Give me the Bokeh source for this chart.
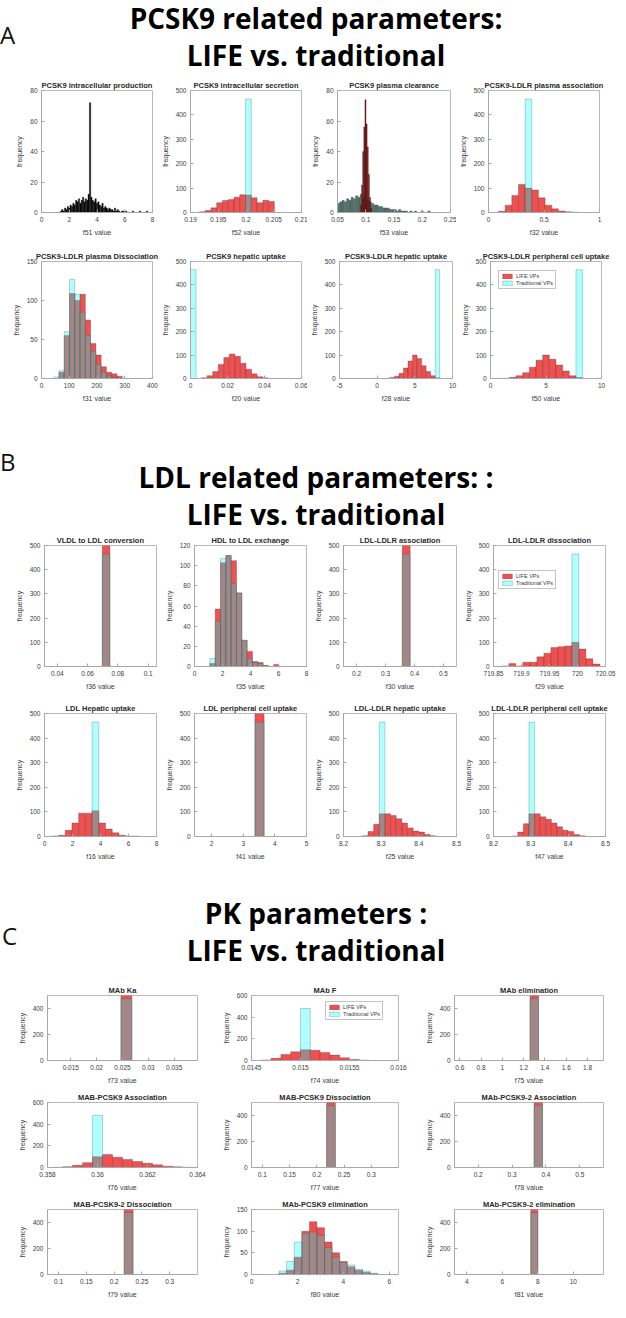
from bokeh.plotting import figure
from bokeh.models import (Div, Range1d, FixedTicker, CustomJSTickFormatter,
                          Legend, LegendItem, Label)
from bokeh.layouts import column, row
from bokeh.embed import file_html
from bokeh.resources import INLINE

# ======================= DATA =======================
SECTION_LETTERS = ["A", "B", "C"]
SECTION_LINE1 = ["PCSK9 related parameters:", "LDL related parameters: :", "PK parameters :"]
SECTION_LINE2 = ["LIFE vs. traditional", "LIFE vs. traditional", "LIFE vs. traditional"]
LEGEND_LABELS = ["LIFE VPs", "Traditional VPs"]

# ---- Section A ----
F51_START, F51_WIDTH = 1.35, 0.1
F51_COUNTS = [1, 2, 1, 3, 2, 4, 3, 5, 4, 6, 5, 8, 7, 9, 6, 8, 10, 7, 9, 8, 12, 72,
              10, 8, 7, 9, 6, 7, 5, 4, 6, 3, 4, 3, 2, 3, 2, 2, 1, 3, 1, 2, 1, 0,
              1, 1, 0, 1, 0, 0, 0, 0, 1, 0, 0, 0, 0, 1, 0, 0, 0, 0, 1]

F52_START, F52_WIDTH = 0.1916, 0.00104
F52_LIFE = [3, 8, 19, 40, 49, 53, 63, 73, 72, 60, 40, 50, 45]
F52_TRAD = [0, 0, 0, 0, 0, 0, 0, 0, 465, 0, 0, 0, 0]

F53_TRAD_START, F53_TRAD_WIDTH = 0.050, 0.004
F53_TRAD = [6, 7, 8, 7, 9, 8, 10, 9, 11, 10, 12, 9, 10, 8, 7, 6, 5, 5, 4, 4,
            3, 3, 3, 2, 2, 2, 1, 2, 1, 1, 1, 0, 1, 0, 1, 0, 0, 1, 0, 0, 1]
F53_LIFE_START, F53_LIFE_WIDTH = 0.0905, 0.002
F53_LIFE = [5, 18, 40, 56, 74, 58, 43, 25, 10, 3]

F32_START, F32_WIDTH = 0.09, 0.06
F32_LIFE = [5, 30, 70, 115, 100, 92, 60, 30, 15, 6, 3, 1]
F32_TRAD = [0, 0, 0, 0, 465, 0, 0, 0, 0, 0, 0, 0]

F31_START, F31_WIDTH = 44, 19
F31_LIFE = [0, 8, 55, 109, 100, 108, 75, 45, 30, 15, 8, 6, 3]
F31_TRAD = [2, 10, 60, 127, 108, 85, 55, 35, 18, 8, 3, 1, 0]

F20_LIFE_START, F20_WIDTH = 0.006, 0.003
F20_LIFE = [3, 12, 30, 60, 90, 105, 95, 65, 40, 20, 8, 3]
F20_TRAD_START = 0.0
F20_TRAD = [465]

F28_START, F28_WIDTH = 1.1, 0.6
F28_LIFE = [1, 4, 10, 22, 45, 75, 100, 85, 55, 30, 12, 3]
F28_TRAD = [0, 0, 0, 0, 0, 0, 0, 0, 0, 0, 0, 465]

F50_START, F50_WIDTH = 1.1, 0.6
F50_LIFE = [1, 5, 12, 25, 48, 78, 100, 82, 58, 32, 12, 4]
F50_TRAD = [0, 0, 0, 0, 0, 0, 0, 0, 0, 0, 0, 465]

# ---- Section B ----
F36_START, F36_WIDTH = 0.0697, 0.005
F36_LIFE, F36_TRAD = [500], [465]

F35_START, F35_WIDTH = 1.10, 0.38          # x 10^-3
F35_LIFE = [3, 57, 103, 110, 105, 73, 26, 15, 5, 4, 1, 0, 2]
F35_TRAD = [8, 45, 107, 110, 82, 73, 26, 8, 4, 3, 1, 0, 0]

F30_START, F30_WIDTH = 0.358, 0.027
F30_LIFE, F30_TRAD = [500], [465]

F29_START, F29_WIDTH = 719.865, 0.0125
F29_LIFE = [2, 12, 2, 18, 18, 40, 55, 78, 82, 85, 100, 72, 32, 10]
F29_TRAD = [0, 0, 0, 0, 0, 0, 0, 0, 0, 0, 465, 0, 0, 0]

F16_START, F16_WIDTH = 0.52, 0.48          # x 10^-4
F16_LIFE = [2, 5, 25, 55, 95, 95, 105, 55, 30, 15, 5, 2, 2]
F16_TRAD = [0, 0, 0, 0, 0, 0, 465, 0, 0, 0, 0, 0, 0]

F41_START, F41_WIDTH = 3.37, 0.29          # x 10^-4
F41_LIFE, F41_TRAD = [500], [465]

F25_START, F25_WIDTH = 8.25, 0.015
F25_LIFE = [3, 20, 50, 92, 92, 85, 72, 55, 35, 22, 18, 8, 3]
F25_TRAD = [0, 0, 0, 465, 0, 0, 0, 0, 0, 0, 0, 0, 0]

F47_START, F47_WIDTH = 8.25, 0.015
F47_LIFE = [2, 18, 52, 92, 92, 80, 70, 55, 40, 25, 20, 8, 3]
F47_TRAD = [0, 0, 0, 465, 0, 0, 0, 0, 0, 0, 0, 0, 0]

# ---- Section C ----
F73_START, F73_WIDTH = 0.0247, 0.0021
F73_LIFE, F73_TRAD = [500], [475]

F74_START, F74_WIDTH = 0.0146, 0.0001
F74_LIFE = [5, 20, 55, 80, 100, 95, 75, 50, 25, 10, 3]
F74_TRAD = [0, 0, 0, 0, 480, 0, 0, 0, 0, 0, 0]

F75_START, F75_WIDTH = 1.26, 0.08          # x 10^-3
F75_LIFE, F75_TRAD = [500], [475]

F76_START, F76_WIDTH = 0.3582, 0.0004
F76_LIFE = [2, 8, 20, 45, 100, 120, 95, 75, 55, 40, 25, 12, 6, 2]
F76_TRAD = [0, 0, 0, 0, 480, 0, 0, 0, 0, 0, 0, 0, 0, 0]

F77_START, F77_WIDTH = 0.218, 0.016
F77_LIFE, F77_TRAD = [500], [475]

F78_START, F78_WIDTH = 0.365, 0.025
F78_LIFE, F78_TRAD = [500], [475]

F79_START, F79_WIDTH = 0.218, 0.016
F79_LIFE, F79_TRAD = [500], [475]

F80_START, F80_WIDTH = 1.2, 0.33           # x 10^-3
F80_LIFE = [3, 10, 40, 100, 122, 108, 75, 50, 30, 18, 10, 5, 2]
F80_TRAD = [8, 30, 75, 95, 98, 90, 62, 40, 28, 22, 12, 8, 3]

F81_START, F81_WIDTH = 7.6, 0.4            # x 10^-3
F81_LIFE, F81_TRAD = [500], [475]

# ======================= STYLE =======================
RED = "#f05050"
CYAN = "#00ffff"
TXT = "#3c3c3c"
AXC = "#a8a8a8"
FONT = "Liberation Sans"
HFONT = "Open Sans"

STYLES = {
    "red": dict(fill_color=RED, fill_alpha=1.0, line_color="#333333", line_alpha=0.6, line_width=0.5),
    "cyan": dict(fill_color=CYAN, fill_alpha=0.31, line_color="#1f5f5f", line_alpha=0.55, line_width=0.5),
    "black": dict(fill_color="#0a0a0a", line_color="#0a0a0a", line_width=0.3),
    "darkred": dict(fill_color="#7b1f1f", line_color="#3a0a0a", line_width=0.3),
    "darkteal": dict(fill_color="#57736d", line_color="#2f4540", line_width=0.3),
}

FMT = CustomJSTickFormatter(code="return String(parseFloat(tick.toPrecision(10)));")


def S(start, width, counts, style):
    return (start, width, counts, style)


SPECS_A1 = [
    dict(title="PCSK9 intracellular production", xlabel="f51 value", xr=(0, 8), xt=[0, 2, 4, 6, 8],
         yr=(0, 80), yt=[0, 20, 40, 60, 80], series=[S(F51_START, F51_WIDTH, F51_COUNTS, "black")]),
    dict(title="PCSK9 intracellular secretion", xlabel="f52 value", xr=(0.19, 0.21),
         xt=[0.19, 0.195, 0.2, 0.205, 0.21], yr=(0, 500), yt=[0, 100, 200, 300, 400, 500],
         series=[S(F52_START, F52_WIDTH, F52_LIFE, "red"), S(F52_START, F52_WIDTH, F52_TRAD, "cyan")]),
    dict(title="PCSK9 plasma clearance", xlabel="f53 value", xr=(0.05, 0.25),
         xt=[0.05, 0.1, 0.15, 0.2, 0.25], yr=(0, 80), yt=[0, 20, 40, 60, 80],
         series=[S(F53_TRAD_START, F53_TRAD_WIDTH, F53_TRAD, "darkteal"),
                 S(F53_LIFE_START, F53_LIFE_WIDTH, F53_LIFE, "darkred")]),
    dict(title="PCSK9-LDLR plasma association", xlabel="f32 value", xr=(0, 1), xt=[0, 0.5, 1],
         yr=(0, 500), yt=[0, 100, 200, 300, 400, 500],
         series=[S(F32_START, F32_WIDTH, F32_LIFE, "red"), S(F32_START, F32_WIDTH, F32_TRAD, "cyan")]),
]
SPECS_A2 = [
    dict(title="PCSK9-LDLR plasma Dissociation", xlabel="f31 value", xr=(0, 400),
         xt=[0, 100, 200, 300, 400], yr=(0, 150), yt=[0, 50, 100, 150],
         series=[S(F31_START, F31_WIDTH, F31_LIFE, "red"), S(F31_START, F31_WIDTH, F31_TRAD, "cyan")]),
    dict(title="PCSK9 hepatic uptake", xlabel="f20 value", xr=(0, 0.06), xt=[0, 0.02, 0.04, 0.06],
         yr=(0, 500), yt=[0, 100, 200, 300, 400, 500],
         series=[S(F20_LIFE_START, F20_WIDTH, F20_LIFE, "red"), S(F20_TRAD_START, F20_WIDTH, F20_TRAD, "cyan")]),
    dict(title="PCSK9-LDLR hepatic uptake", xlabel="f28 value", xr=(-5, 10), xt=[-5, 0, 5, 10],
         yr=(0, 500), yt=[0, 100, 200, 300, 400, 500],
         series=[S(F28_START, F28_WIDTH, F28_LIFE, "red"), S(F28_START, F28_WIDTH, F28_TRAD, "cyan")]),
    dict(title="PCSK9-LDLR peripheral cell uptake", xlabel="f50 value", xr=(0, 10), xt=[0, 5, 10],
         yr=(0, 500), yt=[0, 100, 200, 300, 400, 500], legend=(8, 89),
         series=[S(F50_START, F50_WIDTH, F50_LIFE, "red"), S(F50_START, F50_WIDTH, F50_TRAD, "cyan")]),
]
SPECS_B1 = [
    dict(title="VLDL to LDL conversion", xlabel="f36 value", xr=(0.0315, 0.1055),
         xt=[0.04, 0.06, 0.08, 0.1], yr=(0, 500), yt=[0, 100, 200, 300, 400, 500],
         series=[S(F36_START, F36_WIDTH, F36_LIFE, "red"), S(F36_START, F36_WIDTH, F36_TRAD, "cyan")]),
    dict(title="HDL to LDL exchange", xlabel="f35 value", xr=(0, 8), xt=[0, 2, 4, 6, 8],
         yr=(0, 120), yt=[0, 20, 40, 60, 80, 100, 120], exp="\u00d710\u207b\u00b3",
         series=[S(F35_START, F35_WIDTH, F35_LIFE, "red"), S(F35_START, F35_WIDTH, F35_TRAD, "cyan")]),
    dict(title="LDL-LDLR association", xlabel="f30 value", xr=(0.155, 0.545),
         xt=[0.2, 0.3, 0.4, 0.5], yr=(0, 500), yt=[0, 100, 200, 300, 400, 500],
         series=[S(F30_START, F30_WIDTH, F30_LIFE, "red"), S(F30_START, F30_WIDTH, F30_TRAD, "cyan")]),
    dict(title="LDL-LDLR dissociation", xlabel="f29 value", xr=(719.85, 720.05),
         xt=[719.85, 719.9, 719.95, 720, 720.05], yr=(0, 500), yt=[0, 100, 200, 300, 400, 500],
         legend=(5, 77),
         series=[S(F29_START, F29_WIDTH, F29_LIFE, "red"), S(F29_START, F29_WIDTH, F29_TRAD, "cyan")]),
]
SPECS_B2 = [
    dict(title="LDL Hepatic uptake", xlabel="f16 value", xr=(0, 8), xt=[0, 2, 4, 6, 8],
         yr=(0, 500), yt=[0, 100, 200, 300, 400, 500], exp="\u00d710\u207b\u2074",
         series=[S(F16_START, F16_WIDTH, F16_LIFE, "red"), S(F16_START, F16_WIDTH, F16_TRAD, "cyan")]),
    dict(title="LDL peripheral cell uptake", xlabel="f41 value", xr=(1.46, 5.0), xt=[2, 3, 4, 5],
         yr=(0, 500), yt=[0, 100, 200, 300, 400, 500], exp="\u00d710\u207b\u2074",
         series=[S(F41_START, F41_WIDTH, F41_LIFE, "red"), S(F41_START, F41_WIDTH, F41_TRAD, "cyan")]),
    dict(title="LDL-LDLR hepatic uptake", xlabel="f25 value", xr=(8.2, 8.5), xt=[8.2, 8.3, 8.4, 8.5],
         yr=(0, 500), yt=[0, 100, 200, 300, 400, 500],
         series=[S(F25_START, F25_WIDTH, F25_LIFE, "red"), S(F25_START, F25_WIDTH, F25_TRAD, "cyan")]),
    dict(title="LDL-LDLR peripheral cell uptake", xlabel="f47 value", xr=(8.2, 8.5),
         xt=[8.2, 8.3, 8.4, 8.5], yr=(0, 500), yt=[0, 100, 200, 300, 400, 500],
         series=[S(F47_START, F47_WIDTH, F47_LIFE, "red"), S(F47_START, F47_WIDTH, F47_TRAD, "cyan")]),
]
SPECS_C1 = [
    dict(title="MAb Ka", xlabel="f73 value", xr=(0.0105, 0.0395),
         xt=[0.015, 0.02, 0.025, 0.03, 0.035], yr=(0, 500), yt=[0, 200, 400],
         series=[S(F73_START, F73_WIDTH, F73_LIFE, "red"), S(F73_START, F73_WIDTH, F73_TRAD, "cyan")]),
    dict(title="MAb F", xlabel="f74 value", xr=(0.0145, 0.016), xt=[0.0145, 0.015, 0.0155, 0.016],
         yr=(0, 600), yt=[0, 200, 400, 600], legend=(74, 40),
         series=[S(F74_START, F74_WIDTH, F74_LIFE, "red"), S(F74_START, F74_WIDTH, F74_TRAD, "cyan")]),
    dict(title="MAb elimination", xlabel="f75 value", xr=(0.55, 1.95),
         xt=[0.6, 0.8, 1, 1.2, 1.4, 1.6, 1.8], yr=(0, 500), yt=[0, 200, 400],
         exp="\u00d710\u207b\u00b3",
         series=[S(F75_START, F75_WIDTH, F75_LIFE, "red"), S(F75_START, F75_WIDTH, F75_TRAD, "cyan")]),
]
SPECS_C2 = [
    dict(title="MAB-PCSK9 Association", xlabel="f76 value", xr=(0.358, 0.364),
         xt=[0.358, 0.36, 0.362, 0.364], yr=(0, 600), yt=[0, 200, 400, 600],
         series=[S(F76_START, F76_WIDTH, F76_LIFE, "red"), S(F76_START, F76_WIDTH, F76_TRAD, "cyan")]),
    dict(title="MAB-PCSK9 Dissociation", xlabel="f77 value", xr=(0.08, 0.35),
         xt=[0.1, 0.15, 0.2, 0.25, 0.3], yr=(0, 500), yt=[0, 200, 400],
         series=[S(F77_START, F77_WIDTH, F77_LIFE, "red"), S(F77_START, F77_WIDTH, F77_TRAD, "cyan")]),
    dict(title="MAb-PCSK9-2 Association", xlabel="f78 value", xr=(0.13, 0.57),
         xt=[0.2, 0.3, 0.4, 0.5], yr=(0, 500), yt=[0, 200, 400],
         series=[S(F78_START, F78_WIDTH, F78_LIFE, "red"), S(F78_START, F78_WIDTH, F78_TRAD, "cyan")]),
]
SPECS_C3 = [
    dict(title="MAB-PCSK9-2 Dissociation", xlabel="f79 value", xr=(0.08, 0.35),
         xt=[0.1, 0.15, 0.2, 0.25, 0.3], yr=(0, 500), yt=[0, 200, 400],
         series=[S(F79_START, F79_WIDTH, F79_LIFE, "red"), S(F79_START, F79_WIDTH, F79_TRAD, "cyan")]),
    dict(title="MAb-PCSK9 elimination", xlabel="f80 value", xr=(0, 6.4), xt=[0, 2, 4, 6],
         yr=(0, 150), yt=[0, 50, 100, 150], exp="\u00d710\u207b\u00b3",
         series=[S(F80_START, F80_WIDTH, F80_LIFE, "red"), S(F80_START, F80_WIDTH, F80_TRAD, "cyan")]),
    dict(title="MAb-PCSK9-2 elimination", xlabel="f81 value", xr=(3.3, 11.7), xt=[4, 6, 8, 10],
         yr=(0, 500), yt=[0, 200, 400], exp="\u00d710\u207b\u00b3",
         series=[S(F81_START, F81_WIDTH, F81_LIFE, "red"), S(F81_START, F81_WIDTH, F81_TRAD, "cyan")]),
]


# ======================= BUILD =======================
def add_series(p, start, width, counts, style):
    lefts, rights, tops = [], [], []
    for i, c in enumerate(counts):
        if c > 0:
            lefts.append(start + i * width)
            rights.append(start + (i + 1) * width)
            tops.append(c)
    return p.quad(left=lefts, right=rights, bottom=0, top=tops, **STYLES[style])


def make_fig(s, fw, fh, lb, rb, tb, bb):
    p = figure(output_backend="svg", toolbar_location=None, tools="",
               frame_width=fw, frame_height=fh,
               min_border_left=lb, min_border_right=rb, min_border_top=tb, min_border_bottom=bb,
               x_range=Range1d(*s["xr"]), y_range=Range1d(*s["yr"]),
               background_fill_color="white", border_fill_color="white",
               outline_line_color=AXC, outline_line_width=0.8)
    p.title.text = s["title"]
    p.title.align = "center"
    p.title.text_font = FONT
    p.title.text_font_size = "7.5px"
    p.title.text_font_style = "bold"
    p.title.text_color = "#2a2a2a"
    p.title.standoff = 2
    p.xgrid.visible = False
    p.ygrid.visible = False
    for ax, ticks in ((p.xaxis[0], s["xt"]), (p.yaxis[0], s["yt"])):
        ax.ticker = FixedTicker(ticks=ticks)
        ax.formatter = FMT
        ax.major_tick_in = 3
        ax.major_tick_out = 0
        ax.minor_tick_line_color = None
        ax.axis_line_color = AXC
        ax.major_tick_line_color = AXC
        ax.major_label_text_font = FONT
        ax.major_label_text_font_size = "6.5px"
        ax.major_label_text_color = TXT
        ax.major_label_standoff = 4
        ax.axis_label_text_font = FONT
        ax.axis_label_text_font_size = "7px"
        ax.axis_label_text_font_style = "normal"
        ax.axis_label_text_color = TXT
        ax.axis_label_standoff = 4
    p.xaxis.axis_label = s["xlabel"]
    p.yaxis.axis_label = "frequency"
    rends = [add_series(p, *ser) for ser in s["series"]]
    if s.get("exp"):
        p.add_layout(Label(x=s["xr"][1], y=s["yr"][0], text=s["exp"], text_align="right",
                           text_baseline="middle", y_offset=-19, text_font=FONT,
                           text_font_size="6px", text_color=TXT))
    if s.get("legend"):
        leg = Legend(items=[LegendItem(label=LEGEND_LABELS[0], renderers=[rends[0]]),
                            LegendItem(label=LEGEND_LABELS[1], renderers=[rends[1]])],
                     location=s["legend"], label_text_font=FONT, label_text_font_size="5.5px",
                     label_text_color=TXT, label_height=6, glyph_height=6, glyph_width=12,
                     label_standoff=3, spacing=1, padding=2, margin=0,
                     border_line_color="#8a8a8a", border_line_width=0.6, background_fill_alpha=1)
        p.add_layout(leg)
    return p


YAXIS_W = 30


def make_row(specs, lefts, widths, fh, tb, bb, last_end=618):
    starts = [8] + [L - YAXIS_W for L in lefts[1:]]
    ends = starts[1:] + [last_end]
    figs = []
    for i, s in enumerate(specs):
        lb = lefts[i] - starts[i]
        rb = ends[i] - lefts[i] - widths[i]
        figs.append(make_fig(s, widths[i], fh, lb, rb, tb, bb))
    return row(*figs, spacing=0)


def header(idx, h, letter_top, letter_left, title_top):
    html = ('<div style="position:relative;width:610px;height:%dpx;">'
            '<div style="position:absolute;left:%dpx;top:%dpx;font-family:\'%s\',sans-serif;'
            'font-size:24px;line-height:30px;color:#111;">%s</div>'
            '<div style="position:absolute;left:28px;top:%dpx;width:576px;text-align:center;'
            'font-family:\'%s\',sans-serif;font-weight:bold;font-size:28px;line-height:37px;'
            'color:#000;white-space:nowrap;">%s<br>%s</div></div>') % (
        h, letter_left, letter_top, HFONT, SECTION_LETTERS[idx], title_top, HFONT,
        SECTION_LINE1[idx], SECTION_LINE2[idx])
    return Div(text=html, width=610, height=h, margin=(0, 0, 0, 0))


A_L, A_W = [49, 196, 343, 492], [111, 111, 113, 111]
B_L, B_W = [52, 200, 347, 495], [112, 112, 113, 112]
C_L, C_W = [55, 257, 458], [150, 147, 149]

layout = column(
    header(0, 74, 20, 0, 0),
    make_row(SPECS_A1, A_L, A_W, 122, 16, 33),
    make_row(SPECS_A2, A_L, A_W, 117, 16, 33),
    header(1, 118, 36, 0, 48),
    make_row(SPECS_B1, B_L, B_W, 121, 16, 31),
    make_row(SPECS_B2, B_L, B_W, 123, 16, 31),
    header(2, 112, 54, 2, 28),
    make_row(SPECS_C1, C_L, C_W, 65, 16, 26),
    make_row(SPECS_C2, C_L, C_W, 65, 16, 26),
    make_row(SPECS_C3, C_L, C_W, 65, 16, 26),
    spacing=0,
)

open("out.html", "w").write(file_html(layout, INLINE, title="LIFE vs traditional"))
